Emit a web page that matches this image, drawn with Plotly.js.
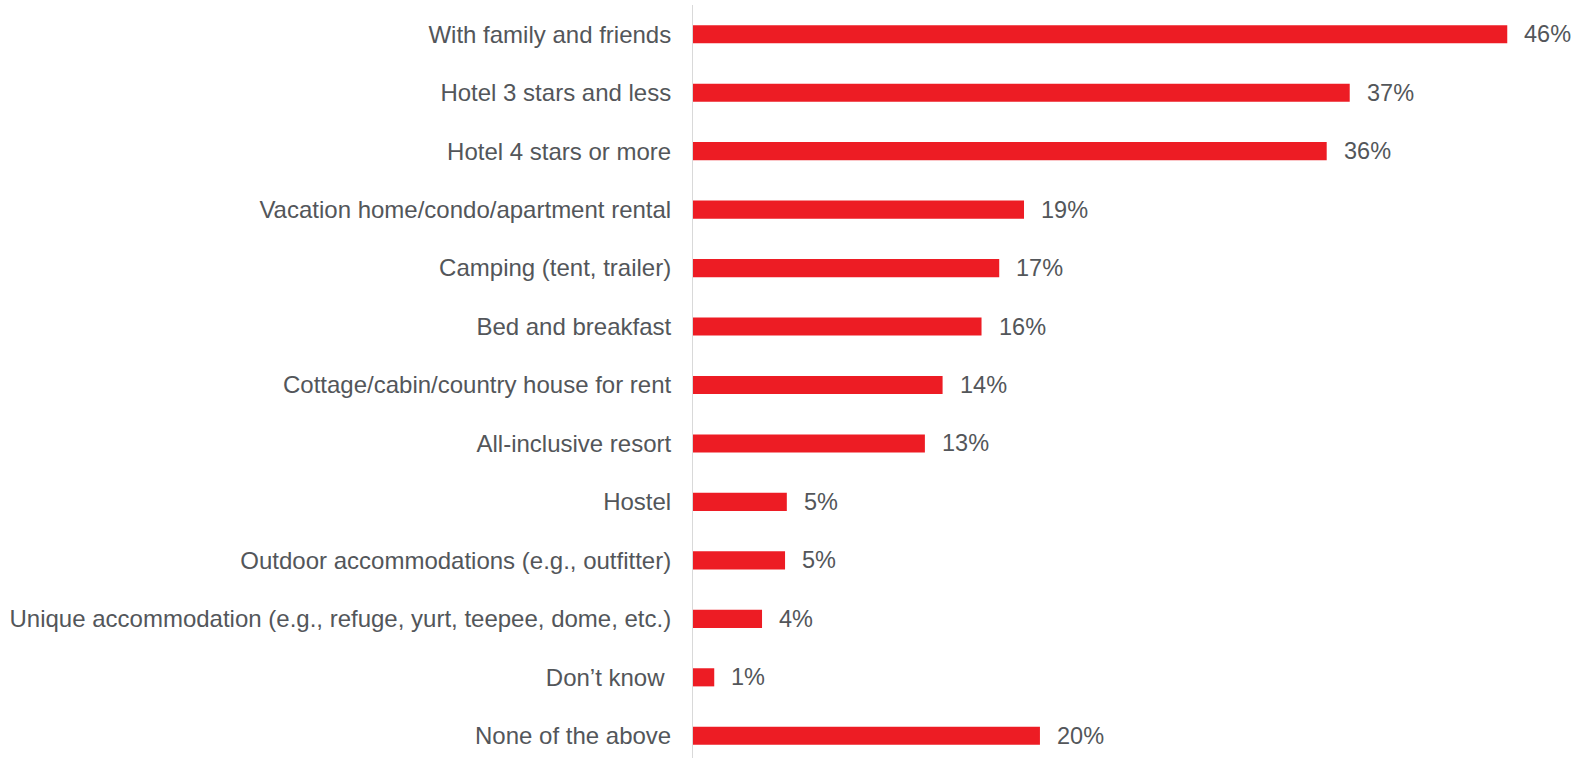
<!DOCTYPE html>
<html>
<head>
<meta charset="utf-8">
<script src="https://cdn.plot.ly/plotly-3.0.1.min.js"></script>
<style>
html,body{margin:0;padding:0;background:#fff;}
#chart{width:1577px;height:758px;}
</style>
</head>
<body>
<div id="chart"></div>
<script>
const categories = [
  "With family and friends",
  "Hotel 3 stars and less",
  "Hotel 4 stars or more",
  "Vacation home/condo/apartment rental",
  "Camping (tent, trailer)",
  "Bed and breakfast",
  "Cottage/cabin/country house for rent",
  "All-inclusive resort",
  "Hostel",
  "Outdoor accommodations (e.g., outfitter)",
  "Unique accommodation (e.g., refuge, yurt, teepee, dome, etc.)",
  "Don\u2019t know ",
  "None of the above"
];
const values = [46, 37.1, 35.8, 18.7, 17.3, 16.3, 14.1, 13.1, 5.3, 5.2, 3.9, 1.2, 19.6];
const valueLabels = ["46%", "37%", "36%", "19%", "17%", "16%", "14%", "13%", "5%", "5%", "4%", "1%", "20%"];

const textColor = "#53565a";
const fontFamily = "'Liberation Sans', Arial, sans-serif";

const trace = {
  type: "bar",
  orientation: "h",
  x: values,
  y: categories,
  marker: {color: "#ED1C24", line: {width: 0}},
  width: 0.31,
  hoverinfo: "none"
};

const annotations = values.map((v, i) => ({
  x: v, y: categories[i], xref: "x", yref: "y",
  text: valueLabels[i], showarrow: false,
  xanchor: "left", yanchor: "middle", xshift: 15,
  font: {family: fontFamily, size: 23.5, color: textColor}
}));

const layout = {
  width: 1577, height: 758,
  margin: {l: 693, r: 0, t: 5, b: 0},
  paper_bgcolor: "#fff", plot_bgcolor: "#fff",
  showlegend: false,
  font: {family: fontFamily, size: 24, color: textColor},
  xaxis: {range: [0, 49.94], visible: false, showgrid: false, zeroline: false, fixedrange: true},
  yaxis: {
    type: "category",
    categoryorder: "array", categoryarray: categories,
    range: [12.38, -0.5],
    showgrid: false, zeroline: false,
    showline: true, linecolor: "#d9d9d9", linewidth: 1,
    ticks: "", ticklabelstandoff: 16,
    tickfont: {family: fontFamily, size: 24, color: textColor},
    fixedrange: true
  },
  annotations: annotations
};

Plotly.newPlot("chart", [trace], layout, {displayModeBar: false, staticPlot: true});
</script>
</body>
</html>
